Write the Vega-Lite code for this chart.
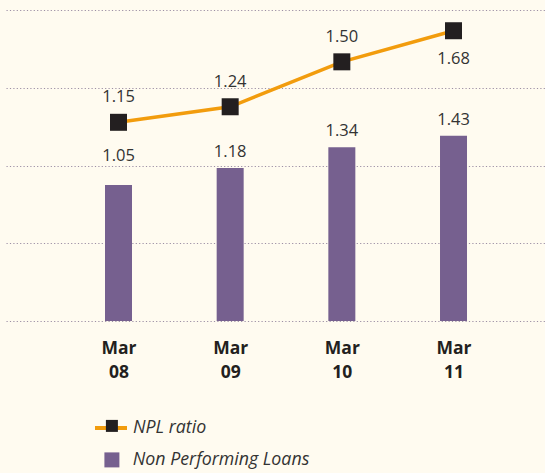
{
  "$schema": "https://vega.github.io/schema/vega-lite/v6.json",
  "width": 539,
  "height": 311,
  "autosize": {"type": "none"},
  "padding": {"left": 6, "top": 10, "right": 0, "bottom": 152},
  "background": "#FFFBF0",
  "config": {
    "view": {"stroke": null},
    "font": "Open Sans",
    "legend": {
      "title": null,
      "orient": "none",
      "padding": 0,
      "labelFont": "Open Sans",
      "labelFontStyle": "italic",
      "labelFontSize": 17.8,
      "labelColor": "#333333",
      "labelLimit": 400
    }
  },
  "data": {
    "values": [
      {"period": "Mar 08", "npl": 1.05, "ratio": 1.15},
      {"period": "Mar 09", "npl": 1.18, "ratio": 1.24},
      {"period": "Mar 10", "npl": 1.34, "ratio": 1.50},
      {"period": "Mar 11", "npl": 1.43, "ratio": 1.68}
    ]
  },
  "encoding": {
    "x": {
      "field": "period",
      "type": "ordinal",
      "sort": null,
      "scale": {"type": "point", "padding": 0.9134, "align": 0.5515},
      "axis": {
        "title": null,
        "labelAngle": 0,
        "ticks": false,
        "domain": false,
        "grid": false,
        "labelExpr": "split(datum.label, ' ')",
        "labelFont": "Open Sans",
        "labelFontWeight": "bold",
        "labelFontSize": 17.5,
        "labelColor": "#231F20",
        "labelLineHeight": 24,
        "labelPadding": 18
      }
    }
  },
  "layer": [
    {
      "mark": {"type": "bar", "width": 27},
      "encoding": {
        "y": {
          "field": "npl",
          "type": "quantitative",
          "scale": {"domain": [0, 2.4], "nice": false},
          "axis": {
            "title": null,
            "values": [0, 0.6, 1.2, 1.8, 2.4],
            "labels": false,
            "ticks": false,
            "domain": false,
            "grid": true,
            "gridColor": "#9D8FA5",
            "gridWidth": 1.2,
            "gridDash": [1.2, 2.2]
          }
        },
        "fill": {
          "datum": "Non Performing Loans",
          "scale": {"domain": ["Non Performing Loans"], "range": ["#76608F"]},
          "legend": {
            "legendX": 97,
            "legendY": 441,
            "symbolType": "square",
            "symbolSize": 225,
            "symbolStrokeWidth": 0,
            "labelOffset": 12,
            "zindex": 0
          }
        }
      }
    },
    {
      "transform": [{"filter": "datum.period !== 'Mar 08'"}],
      "mark": {"type": "text", "dy": -11, "baseline": "alphabetic", "fontSize": 16.5, "color": "#333333", "font": "Open Sans"},
      "encoding": {
        "y": {"field": "npl", "type": "quantitative", "scale": {"domain": [0, 2.4], "nice": false}, "axis": null},
        "text": {"field": "npl", "type": "quantitative", "format": ".2f"}
      }
    },
    {
      "transform": [{"filter": "datum.period === 'Mar 08'"}],
      "mark": {"type": "text", "dy": -24, "baseline": "alphabetic", "fontSize": 16.5, "color": "#333333", "font": "Open Sans"},
      "encoding": {
        "y": {"field": "npl", "type": "quantitative", "scale": {"domain": [0, 2.4], "nice": false}, "axis": null},
        "text": {"field": "npl", "type": "quantitative", "format": ".2f"}
      }
    },
    {
      "mark": {"type": "line", "strokeWidth": 3.5},
      "encoding": {
        "y": {"field": "ratio", "type": "quantitative", "scale": {"domain": [0, 1.8], "nice": false}, "axis": null},
        "stroke": {
          "datum": "NPL ratio",
          "scale": {"domain": ["NPL ratio"], "range": ["#F29C0D"]},
          "legend": {
            "legendX": 87,
            "legendY": 400,
            "symbolType": "stroke",
            "symbolSize": 1024,
            "symbolStrokeWidth": 4,
            "labelOffset": 4,
            "zindex": 0
          }
        }
      }
    },
    {
      "mark": {"type": "point", "filled": true, "size": 289, "opacity": 1, "color": "#231F20"},
      "encoding": {
        "y": {"field": "ratio", "type": "quantitative", "scale": {"domain": [0, 1.8], "nice": false}, "axis": null},
        "shape": {
          "datum": "NPL ratio marker",
          "scale": {"domain": ["NPL ratio marker"], "range": ["square"]},
          "legend": {
            "legendX": 97,
            "legendY": 407,
            "symbolSize": 144,
            "symbolStrokeWidth": 0,
            "symbolFillColor": "#000000",
            "symbolOpacity": 1,
            "labelExpr": "''",
            "labelOffset": 0,
            "zindex": 2
          }
        }
      }
    },
    {
      "transform": [{"filter": "datum.period !== 'Mar 11'"}],
      "mark": {"type": "text", "dy": -20, "baseline": "alphabetic", "fontSize": 16.5, "color": "#333333", "font": "Open Sans"},
      "encoding": {
        "y": {"field": "ratio", "type": "quantitative", "scale": {"domain": [0, 1.8], "nice": false}, "axis": null},
        "text": {"field": "ratio", "type": "quantitative", "format": ".2f"}
      }
    },
    {
      "transform": [{"filter": "datum.period === 'Mar 11'"}],
      "mark": {"type": "text", "dy": 33, "baseline": "alphabetic", "fontSize": 16.5, "color": "#333333", "font": "Open Sans"},
      "encoding": {
        "y": {"field": "ratio", "type": "quantitative", "scale": {"domain": [0, 1.8], "nice": false}, "axis": null},
        "text": {"field": "ratio", "type": "quantitative", "format": ".2f"}
      }
    }
  ],
  "resolve": {"scale": {"y": "independent"}}
}
